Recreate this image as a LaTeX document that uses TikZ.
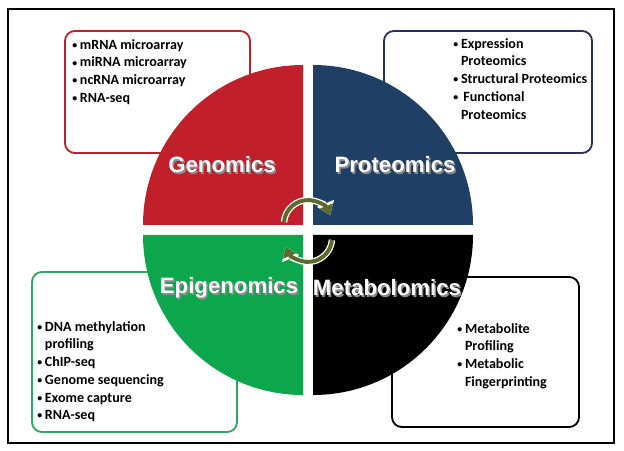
\documentclass[tikz,border=0pt]{standalone}
\usepackage{fontspec}
\setmainfont{Carlito}
\newfontfamily\titlefont{Liberation Sans}
\usepackage{xcolor}
\usetikzlibrary{positioning,arrows.meta}
\definecolor{genred}{HTML}{C1202B}
\definecolor{protblue}{HTML}{1F3F66}
\definecolor{protline}{HTML}{27305E}
\definecolor{epigreen}{HTML}{0CA64C}
\definecolor{epiline}{HTML}{2EA85C}
\definecolor{cycleolive}{HTML}{5B6B2B}
\tikzset{
  listbox/.style={rounded corners=7pt, line width=1.3pt, fill=white},
  omicslist/.style={anchor=north west, inner sep=0pt, font=\bfseries\fontsize{10}{12.6}\selectfont},
  omicstitle/.style={text=white, inner sep=0pt, font=\titlefont\bfseries\fontsize{15.8}{19}\selectfont},
  titleshadow/.style={omicstitle, text=black!45},
  cyclerim/.style={white, line width=4.6pt, -{Triangle[length=9pt,width=12.5pt]}},
  cyclearrow/.style={cycleolive, line width=2.8pt, -{Triangle[length=7pt,width=9.5pt]}}
}
\newcommand{\dotitem}{\raisebox{0.6pt}{\fontsize{7}{7}\selectfont\textbullet}}
\newcommand{\omicsitems}[1]{\begin{tabular}{@{}l@{\hspace{2pt}}l@{}}#1\end{tabular}}
\begin{document}
\begin{tikzpicture}[x=0.025cm, y=-0.025cm]
            \useasboundingbox (0,0) rectangle (624,451);
            \draw[line width=1.4pt] (8,9) rectangle (614,443);
            % boxes behind the circle
            \draw[listbox, draw=genred] (65,31) rectangle (250,153);
            \draw[listbox, draw=protline] (384,31) rectangle (592,153);
            \draw[listbox, draw=epiline] (32,272) rectangle (237,432);
            \draw[listbox, draw=black] (392,277) rectangle (579,427);
            \node[omicslist] (genlist) at (72,36.5) {\omicsitems{%
              \dotitem & mRNA microarray\\
              \dotitem & miRNA microarray\\
              \dotitem & ncRNA microarray\\
              \dotitem & RNA-seq}};
            \node[omicslist] (protlist) at (453,35.5) {\omicsitems{%
              \dotitem & Expression\\
                       & Proteomics\\
              \dotitem & Structural Proteomics\\
              \dotitem & \,Functional\\
                       & Proteomics}};
            \node[omicslist] (epilist) at (37,318.5) {\omicsitems{%
              \dotitem & DNA methylation\\
                       & profiling\\
              \dotitem & ChIP-seq\\
              \dotitem & Genome sequencing\\
              \dotitem & Exome capture\\
              \dotitem & RNA-seq}};
            \node[omicslist] (metalist) at (457,320.5) {\omicsitems{%
              \dotitem & Metabolite\\
                       & Profiling\\
              \dotitem & Metabolic\\
                       & Fingerprinting}};
            % four quarters
            \fill[genred] (303,225) -- (143,225) arc[start angle=180, end angle=270, radius=160] -- cycle;
            \fill[protblue] (313,225) -- (313,65) arc[start angle=270, end angle=360, radius=160] -- cycle;
            \fill[epigreen] (303,235) -- (303,395) arc[start angle=90, end angle=180, radius=160] -- cycle;
            \fill[black] (313,235) -- (473,235) arc[start angle=0, end angle=90, radius=160] -- cycle;
            \node[titleshadow] (genshadow) at (223.5,166.5) {Genomics};
            \node[omicstitle] (gentitle) at (222,165) {Genomics};
            \node[titleshadow] (protshadow) at (396.5,166.5) {Proteomics};
            \node[omicstitle] (prottitle) at (395,165) {Proteomics};
            \node[titleshadow] (epishadow) at (230.5,289.5) {Epigenomics};
            \node[omicstitle] (epititle) at (229,288) {Epigenomics};
            \node[titleshadow] (metashadow) at (388.5,289.5) {Metabolomics};
            \node[omicstitle] (metatitle) at (387,288) {Metabolomics};
            % cycle arrows
            \draw[cyclerim] (284,222) arc[start angle=185, end angle=338, radius=24];
            \draw[cyclearrow] (284,222) arc[start angle=185, end angle=338, radius=24];
            \draw[cyclerim] (332,240) arc[start angle=5, end angle=158, radius=24];
            \draw[cyclearrow] (332,240) arc[start angle=5, end angle=158, radius=24];
        \end{tikzpicture}
\end{document}
